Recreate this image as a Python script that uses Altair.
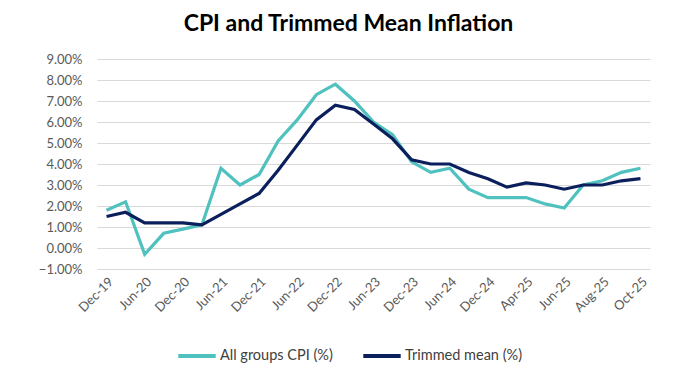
import altair as alt
import pandas as pd

periods = ["Dec-19", "Mar-20", "Jun-20", "Sep-20", "Dec-20", "Mar-21", "Jun-21", "Sep-21",
           "Dec-21", "Mar-22", "Jun-22", "Sep-22", "Dec-22", "Mar-23", "Jun-23", "Sep-23",
           "Dec-23", "Mar-24", "Jun-24", "Sep-24", "Dec-24", "Mar-25", "Apr-25", "May-25",
           "Jun-25", "Jul-25", "Aug-25", "Sep-25", "Oct-25"]
cpi = [1.8, 2.2, -0.3, 0.7, 0.9, 1.1, 3.8, 3.0, 3.5, 5.1, 6.1, 7.3, 7.8, 7.0, 6.0, 5.4,
       4.1, 3.6, 3.8, 2.8, 2.4, 2.4, 2.4, 2.1, 1.9, 3.0, 3.2, 3.6, 3.8]
trimmed = [1.5, 1.7, 1.2, 1.2, 1.2, 1.1, 1.6, 2.1, 2.6, 3.7, 4.9, 6.1, 6.8, 6.6, 5.9, 5.2,
           4.2, 4.0, 4.0, 3.6, 3.3, 2.9, 3.1, 3.0, 2.8, 3.0, 3.0, 3.2, 3.3]
series_names = ["All groups CPI (%)", "Trimmed mean (%)"]
series_colors = ["#4FC1BE", "#0B1F5C"]
tick_labels = ["Dec-19", "Jun-20", "Dec-20", "Jun-21", "Dec-21", "Jun-22", "Dec-22", "Jun-23",
               "Dec-23", "Jun-24", "Dec-24", "Apr-25", "Jun-25", "Aug-25", "Oct-25"]
y_ticks = [-1, 0, 1, 2, 3, 4, 5, 6, 7, 8, 9]

rows = []
for i, p in enumerate(periods):
    rows.append({"Period": p, "Series": series_names[0], "Value": cpi[i]})
    rows.append({"Period": p, "Series": series_names[1], "Value": trimmed[i]})
df = pd.DataFrame(rows)

FONT = "Lato"
TXT = "#595959"

chart = alt.Chart(df).mark_line(strokeWidth=3.2).encode(
    x=alt.X("Period:N", sort=periods,
            scale=alt.Scale(type="point", padding=0.5),
            axis=alt.Axis(values=tick_labels, title=None, labelAngle=-45, ticks=False,
                          domain=False, grid=False, labelFontSize=13, labelColor=TXT,
                          labelFont=FONT, labelPadding=6)),
    y=alt.Y("Value:Q", scale=alt.Scale(domain=[-1, 9], nice=False),
            axis=alt.Axis(values=y_ticks, title=None, ticks=False, domain=False,
                          labelExpr="format(datum.value, '.2f') + '%'",
                          labelFontSize=13, labelColor=TXT, labelFont=FONT,
                          labelPadding=15, gridColor="#D9D9D9", gridWidth=1)),
    color=alt.Color("Series:N", sort=series_names,
                    scale=alt.Scale(domain=series_names, range=series_colors),
                    legend=alt.Legend(title=None, orient="none", legendX=79, legendY=276,
                                      direction="horizontal", symbolType="stroke",
                                      symbolSize=1400, symbolStrokeWidth=4,
                                      labelFont=FONT, labelFontSize=14.5, labelColor="#404040",
                                      columnPadding=22, labelOffset=2)),
).properties(
    width=553, height=210,
    title=alt.TitleParams("CPI and Trimmed Mean Inflation", font=FONT, fontSize=23,
                          fontWeight="bold", color="#000000", anchor="middle", offset=17,
                          dx=-25),
    autosize=alt.AutoSizeParams(type="none"),
    padding={"left": 89, "top": 51, "right": 40, "bottom": 100},
).configure_view(stroke=None)

chart.save("out.html", embed_options={"renderer": "svg", "actions": False})
